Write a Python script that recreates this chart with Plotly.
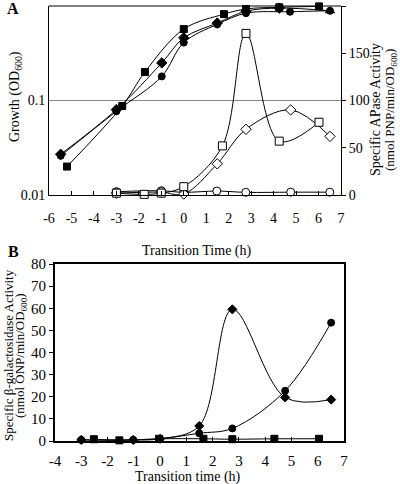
import plotly.graph_objects as go

# ---------------- Panel A data ----------------
# Growth (OD600), left log axis
a_sq_x = [-5.2, -2.74, -1.73, 0.0, 1.79, 2.77, 4.25, 6.02]
a_sq_y = [0.020, 0.0875, 0.20, 0.57, 0.82, 0.93, 0.97, 0.99]

a_ci_x = [-5.48, -3.0, -0.98, 0.0, 1.49, 2.77, 4.73, 6.51]
a_ci_y = [0.026, 0.077, 0.18, 0.41, 0.64, 0.84, 0.87, 0.89]

a_di_x = [-5.48, -3.0, -0.98, 0.0, 1.49, 2.77, 4.25, 6.51]
a_di_y = [0.027, 0.080, 0.25, 0.46, 0.66, 0.88, 0.95, 0.89]
a_di_sym = ["diamond"] * 7 + ["triangle-up"]

# Specific APase activity, right linear axis
a_osq_x = [-3.0, -1.76, -1.0, 0.0, 1.72, 2.77, 4.25, 6.02]
a_osq_y = [2.0, 0.7, 2.0, 8.8, 52, 171, 57, 77]

a_odi_x = [-3.0, -1.0, 0.0, 1.49, 2.77, 4.76, 6.51]
a_odi_y = [2.0, 3.0, 1.0, 33, 69.5, 90, 62]

a_oci_x = [-3.0, -1.0, 0.0, 1.47, 2.76, 4.76, 6.5]
a_oci_y = [3.5, 4.5, 2.8, 4.2, 2.8, 3.0, 3.0]

a_x_ticks = list(range(-6, 8))
a_x_ticklabels = [str(v) for v in a_x_ticks]
a_y_ticks = [0.01, 0.1, 1]
a_y_ticklabels = ["0.01", "0.1", "1"]
a_y2_ticks = [0, 50, 100, 150, 200]

# ---------------- Panel B data ----------------
b_di_x = [-3.0, -1.02, 0.0, 1.49, 2.75, 4.76, 6.51]
b_di_y = [0.5, 0.5, 1.0, 6.8, 59.5, 19.7, 18.7]

b_ci_x = [-3.0, -1.02, 0.0, 1.49, 2.75, 4.76, 6.51]
b_ci_y = [0.5, 0.5, 1.0, 3.5, 5.7, 22.7, 53.5]

b_sq_x = [-2.52, -1.55, -0.04, 1.65, 2.75, 4.35, 6.05]
b_sq_y = [0.8, 0.3, 1.0, 1.0, 0.8, 1.0, 1.0]

b_x_ticks = list(range(-4, 8))
b_x_ticklabels = [str(v) for v in b_x_ticks]
b_y_ticks = list(range(0, 90, 10))

FONT = "Liberation Serif, Times New Roman, serif"
W, H = 400, 484

def px_x(p):
    return p / W

def px_y(p):
    return 1 - p / H

fig = go.Figure()

line_a = dict(color="black", width=1, shape="spline", smoothing=1.0)

def add(x, y, sym, xa, ya, fill="black", size=7, line=None):
    fig.add_trace(go.Scatter(
        x=x, y=y, mode="lines+markers", xaxis=xa, yaxis=ya,
        line=line or line_a,
        marker=dict(symbol=sym, size=size, color=fill,
                    line=dict(color="black", width=1)),
        showlegend=False, cliponaxis=False, hoverinfo="skip"))

# Panel A, APase (right axis) drawn first
add(a_oci_x, a_oci_y, "circle", "x", "y2", fill="white", size=8)
add(a_odi_x, a_odi_y, "diamond", "x", "y2", fill="white", size=8)
add(a_osq_x, a_osq_y, "square", "x", "y2", fill="white", size=8)
# Panel A, growth
add(a_ci_x, a_ci_y, "circle", "x", "y", size=7)
add(a_di_x, a_di_y, a_di_sym, "x", "y", size=8)
add(a_sq_x, a_sq_y, "square", "x", "y", size=7)

# Panel B
line_b = dict(color="black", width=1, shape="spline", smoothing=1.0)
add(b_sq_x, b_sq_y, "square", "x3", "y3", size=7, line=line_b)
add(b_ci_x, b_ci_y, "circle", "x3", "y3", size=7, line=line_b)
add(b_di_x, b_di_y, "diamond", "x3", "y3", size=7, line=line_b)

tickfont = dict(family=FONT, size=14, color="black")
tickfont_b = dict(family=FONT, size=15, color="black")

fig.update_layout(
    template="none",
    width=W, height=H,
    margin=dict(l=0, r=0, t=0, b=0, pad=0),
    paper_bgcolor="white", plot_bgcolor="white",
    font=dict(family=FONT, color="black"),
    xaxis=dict(domain=[px_x(49), px_x(341)], range=[-6, 7],
               tickvals=a_x_ticks, ticktext=a_x_ticklabels,
               ticks="inside", ticklen=4,
               tickcolor="black", showline=True, linecolor="black",
               linewidth=1, showgrid=False, zeroline=False,
               tickfont=tickfont, anchor="y", ticklabelstandoff=10,
               automargin=False),
    yaxis=dict(domain=[px_y(195), px_y(6)], type="log", range=[-2, 0],
               tickvals=a_y_ticks, ticktext=a_y_ticklabels, ticks="",
               showline=True, linecolor="black", linewidth=1,
               showgrid=True, gridcolor="#888888", gridwidth=1,
               zeroline=False, tickfont=tickfont, anchor="x",
               automargin=False),
    yaxis2=dict(domain=[px_y(195), px_y(6)], range=[0, 200],
                overlaying="y", side="right", anchor="x",
                tickvals=a_y2_ticks, ticks="outside", ticklen=4,
                tickcolor="black", showline=True, linecolor="black",
                linewidth=1, showgrid=False, zeroline=False,
                tickfont=tickfont, automargin=False),
    xaxis3=dict(domain=[px_x(55), px_x(344)], range=[-4, 7],
                tickvals=b_x_ticks, ticktext=b_x_ticklabels,
                ticks="inside", ticklen=4,
                tickcolor="black", showline=True, linecolor="black",
                linewidth=2, mirror=True, showgrid=False, zeroline=False,
                tickfont=tickfont_b, anchor="y3", ticklabelstandoff=5,
                automargin=False),
    yaxis3=dict(domain=[px_y(441), px_y(264)], range=[0, 80],
                tickvals=b_y_ticks, ticks="outside", ticklen=4,
                tickcolor="black", showline=True, linecolor="black",
                linewidth=2, mirror=True, showgrid=False, zeroline=False,
                tickfont=tickfont_b, anchor="x3", automargin=False),
)

# top line of panel A (at OD = 1)
fig.add_shape(type="line", xref="x", yref="paper", x0=-6, x1=7,
              y0=px_y(6), y1=px_y(6), line=dict(color="black", width=1))

ann = []
def text(x, y, s, size=14, angle=0, bold=False, xanchor="center"):
    ann.append(dict(x=px_x(x), y=px_y(y), xref="paper", yref="paper",
                    text=f"<b>{s}</b>" if bold else s, showarrow=False,
                    textangle=angle, xanchor=xanchor, yanchor="middle",
                    font=dict(family=FONT, size=size, color="black")))

text(13, 9, "A", size=16, bold=True)
text(13, 251, "B", size=16, bold=True)
text(16, 97, "Growth (OD<sub>600</sub>)", size=14, angle=-90)
text(375, 110, "Specific APase Activity", size=14, angle=-90)
text(390, 110, "(nmol PNP/min/OD<sub>600</sub>)", size=13, angle=-90)
text(197, 251, "Transition Time (h)", size=14)
text(8, 355, "Specific β-galactosidase Activity", size=13, angle=-90)
text(20, 356, "(nmol ONP/min/OD<sub>600</sub>)", size=13, angle=-90)
text(188, 477, "Transition time (h)", size=14)

fig.update_layout(annotations=ann)

fig.write_html(
    "out.html",
    config={"displayModeBar": False},
    post_script="document.body.style.margin='0px';"
                "document.documentElement.style.overflow='hidden';",
)
